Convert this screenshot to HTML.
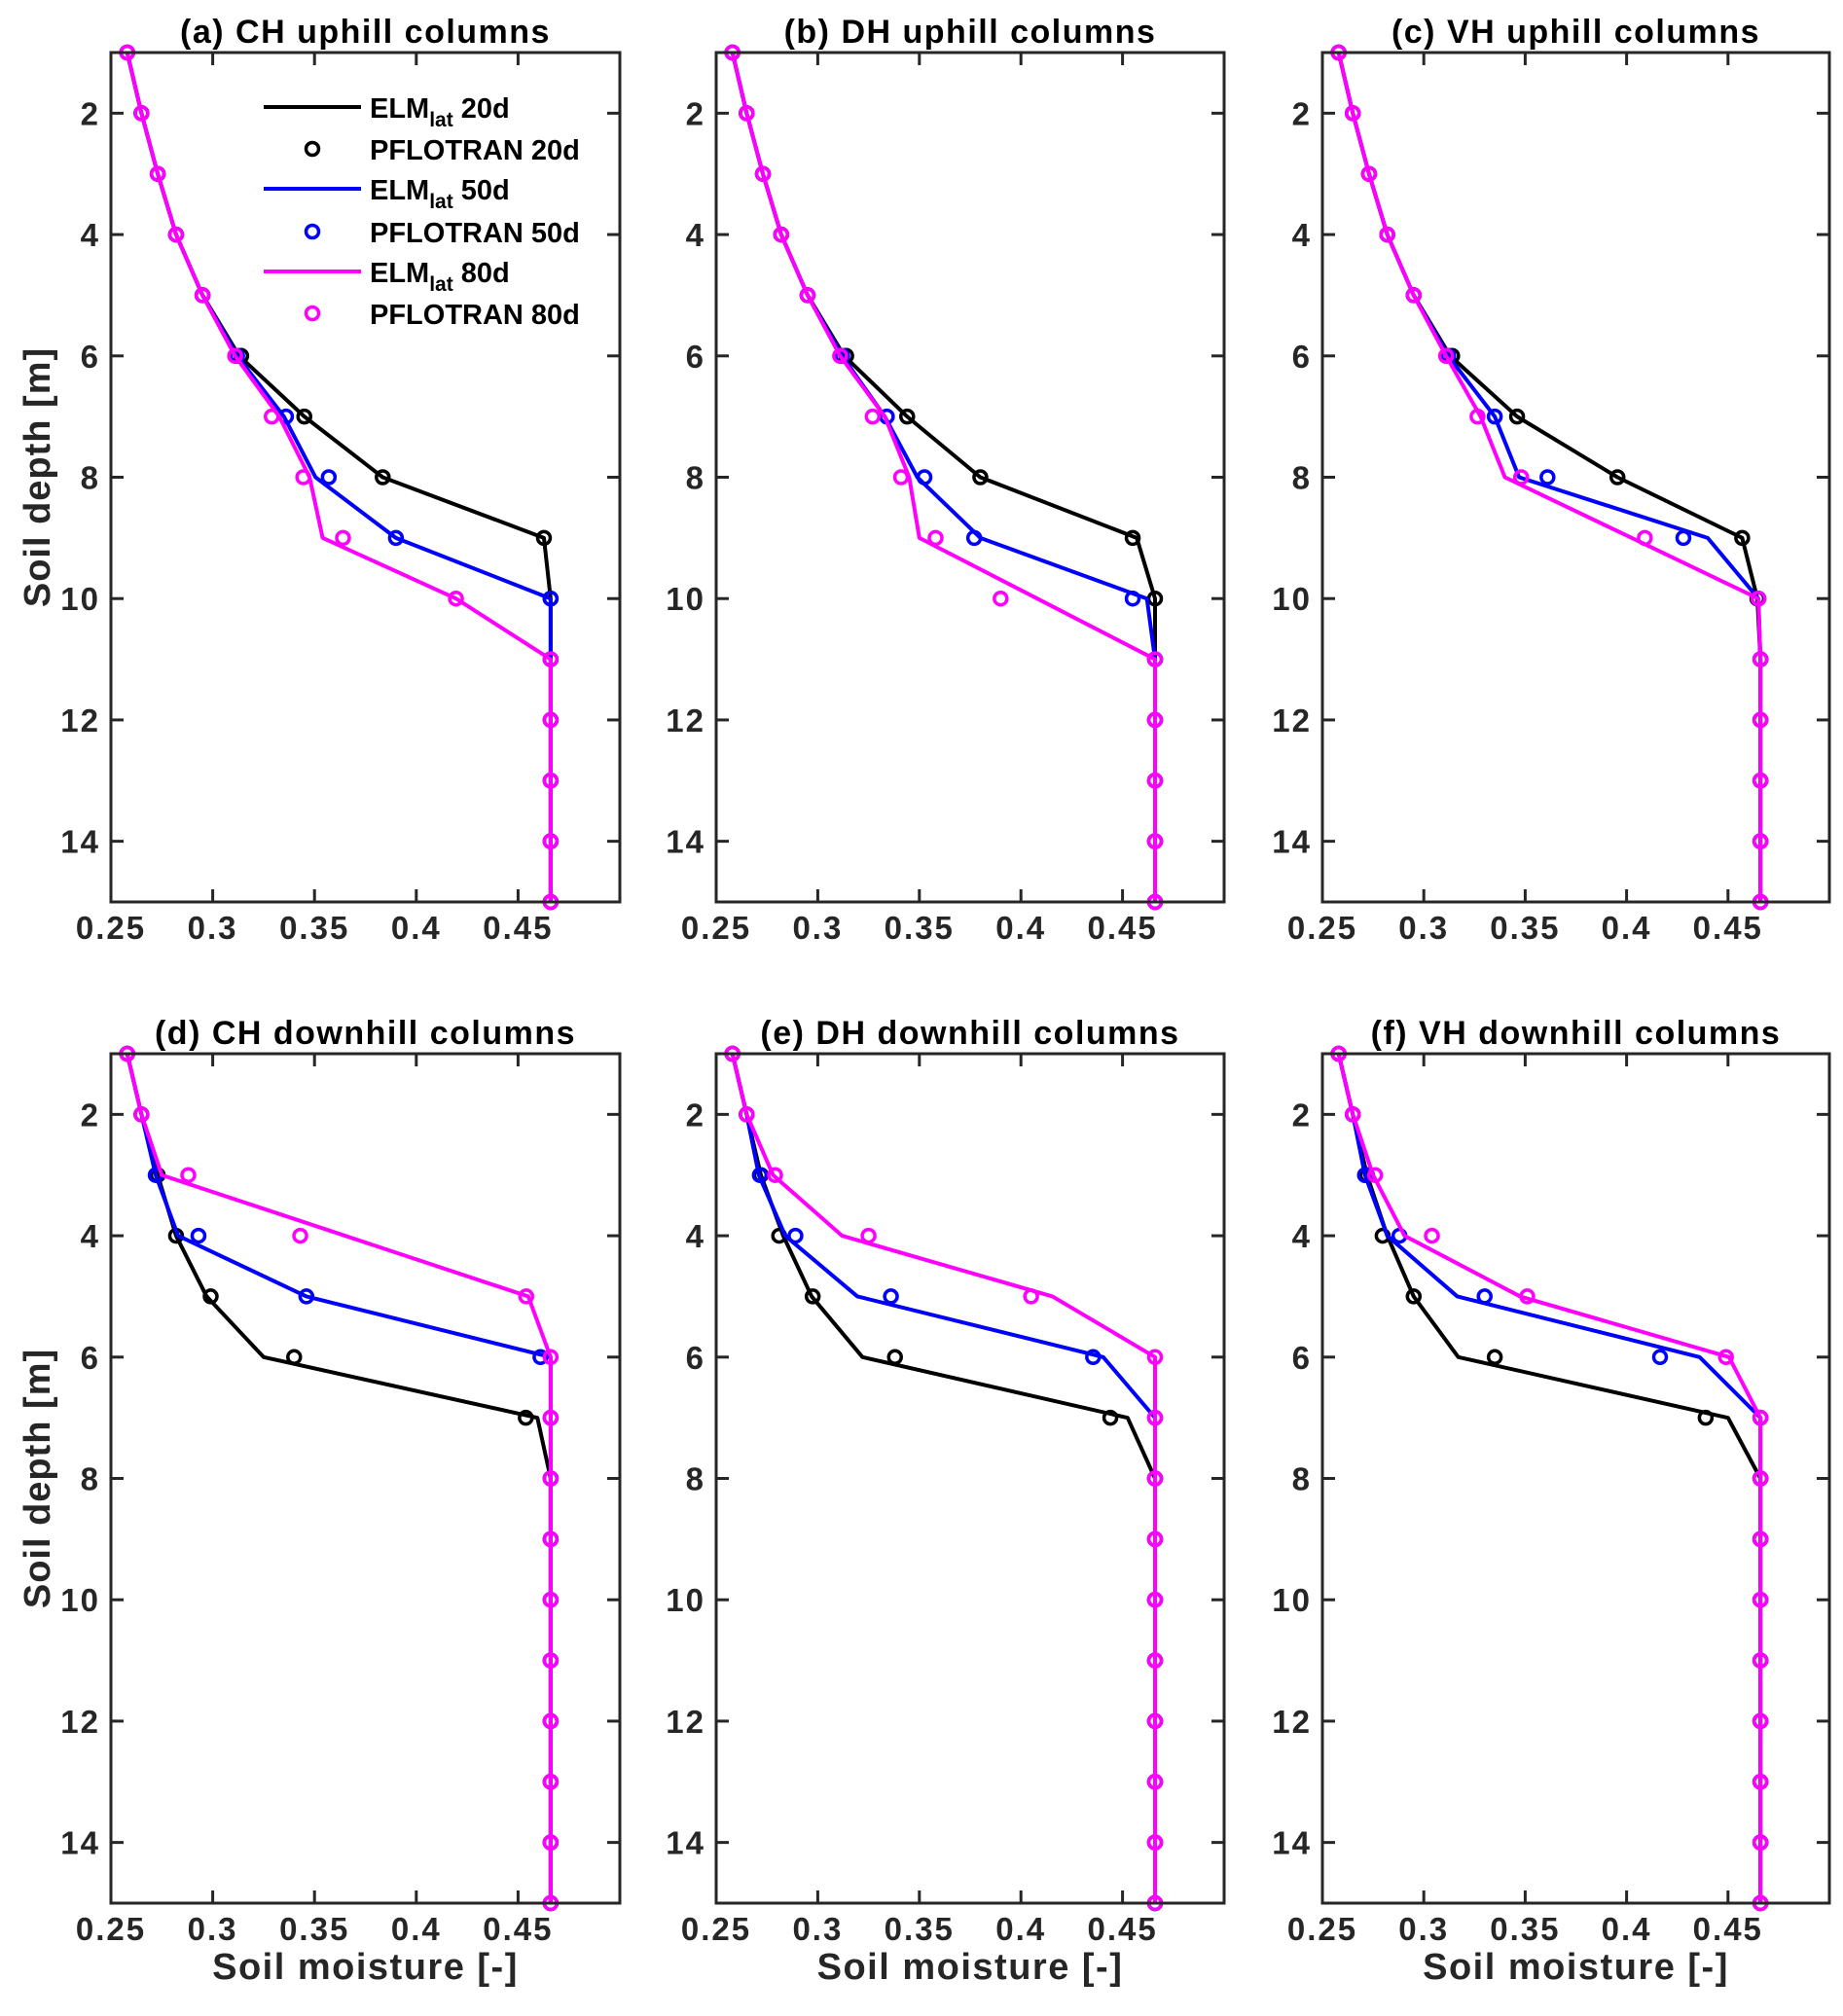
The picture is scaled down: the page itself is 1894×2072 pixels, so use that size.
<!DOCTYPE html>
<html><head><meta charset="utf-8"><style>
html,body{margin:0;padding:0;background:#fff;}
svg{display:block;font-family:"Liberation Sans",Arial,sans-serif;font-weight:bold;}
</style></head>
<body>
<svg id="fig" width="1894" height="2072" viewBox="0 0 1894 2072" xmlns="http://www.w3.org/2000/svg"></svg>
<script>
const depths=[1,2,3,4,5,6,7,8,9,10,11,12,13,14,15];
const xTicks=[0.25,0.3,0.35,0.4,0.45];
const xTickLabels=["0.25","0.3","0.35","0.4","0.45"];
const yTicks=[2,4,6,8,10,12,14];
const panelTitles=["(a) CH uphill columns","(b) DH uphill columns","(c) VH uphill columns","(d) CH downhill columns","(e) DH downhill columns","(f) VH downhill columns"];
const T=[0.258,0.265,0.273,0.282,0.295];
const S=[0.466,0.466,0.466,0.466,0.466,0.466,0.466,0.466,0.466,0.466];
const elm20_a=[...T,0.313,0.345,0.3835,0.4627,0.466,0.466,0.466,0.466,0.466,0.466];
const pfl20_a=[...T,0.314,0.345,0.3835,0.4627,0.466,0.466,0.466,0.466,0.466,0.466];
const elm50_a=[...T,0.312,0.335,0.3505,0.39,0.466,0.466,0.466,0.466,0.466,0.466];
const pfl50_a=[...T,0.312,0.336,0.357,0.390,0.466,0.466,0.466,0.466,0.466,0.466];
const elm80_a=[...T,0.311,0.3327,0.3476,0.354,0.4195,0.466,0.466,0.466,0.466,0.466];
const pfl80_a=[...T,0.311,0.329,0.3445,0.364,0.4195,0.466,0.466,0.466,0.466,0.466];
const elm20_b=[...T,0.313,0.344,0.380,0.457,0.466,0.466,0.466,0.466,0.466,0.466];
const pfl20_b=[...T,0.314,0.344,0.380,0.455,0.466,0.466,0.466,0.466,0.466,0.466];
const elm50_b=[...T,0.312,0.333,0.349,0.380,0.462,0.466,0.466,0.466,0.466,0.466];
const pfl50_b=[...T,0.312,0.334,0.3525,0.377,0.455,0.466,0.466,0.466,0.466,0.466];
const elm80_b=[...T,0.311,0.333,0.345,0.350,0.408,0.466,0.466,0.466,0.466,0.466];
const pfl80_b=[...T,0.311,0.327,0.341,0.358,0.390,0.466,0.466,0.466,0.466,0.466];
const elm20_c=[...T,0.313,0.346,0.3955,0.457,0.4645,0.466,0.466,0.466,0.466,0.466];
const pfl20_c=[...T,0.314,0.346,0.3955,0.457,0.4645,0.466,0.466,0.466,0.466,0.466];
const elm50_c=[...T,0.312,0.335,0.347,0.440,0.465,0.466,0.466,0.466,0.466,0.466];
const pfl50_c=[...T,0.312,0.335,0.361,0.428,0.465,0.466,0.466,0.466,0.466,0.466];
const elm80_c=[...T,0.311,0.328,0.340,0.4025,0.465,0.466,0.466,0.466,0.466,0.466];
const pfl80_c=[...T,0.311,0.3265,0.348,0.409,0.465,0.466,0.466,0.466,0.466,0.466];
const elm20_d=[0.258,0.265,0.273,0.282,0.297,0.325,0.4595,...S.slice(2)];
const pfl20_d=[0.258,0.265,0.273,0.282,0.299,0.340,0.4538,...S.slice(2)];
const elm50_d=[0.258,0.265,0.272,0.283,0.346,0.466,0.466,...S.slice(2)];
const pfl50_d=[0.258,0.265,0.272,0.293,0.346,0.461,0.466,...S.slice(2)];
const elm80_d=[0.258,0.265,0.275,0.365,0.455,0.466,0.466,...S.slice(2)];
const pfl80_d=[0.258,0.265,0.288,0.343,0.454,0.466,0.466,...S.slice(2)];
const elm20_e=[0.258,0.265,0.272,0.283,0.297,0.322,0.4525,...S.slice(2)];
const pfl20_e=[0.258,0.265,0.272,0.281,0.2975,0.338,0.444,...S.slice(2)];
const elm50_e=[0.258,0.265,0.271,0.284,0.3195,0.4405,0.466,...S.slice(2)];
const pfl50_e=[0.258,0.265,0.2715,0.289,0.336,0.4355,0.466,...S.slice(2)];
const elm80_e=[0.258,0.265,0.278,0.312,0.4155,0.466,0.466,...S.slice(2)];
const pfl80_e=[0.258,0.265,0.279,0.325,0.405,0.466,0.466,...S.slice(2)];
const elm20_f=[0.258,0.265,0.272,0.282,0.295,0.317,0.450,...S.slice(2)];
const pfl20_f=[0.258,0.265,0.272,0.2797,0.295,0.335,0.439,...S.slice(2)];
const elm50_f=[0.258,0.265,0.271,0.282,0.3165,0.436,0.466,...S.slice(2)];
const pfl50_f=[0.258,0.265,0.271,0.288,0.330,0.4165,0.466,...S.slice(2)];
const elm80_f=[0.258,0.265,0.275,0.2905,0.3475,0.4505,0.466,...S.slice(2)];
const pfl80_f=[0.258,0.265,0.276,0.304,0.351,0.449,0.466,...S.slice(2)];

const panels=[
 [elm20_a,pfl20_a,elm50_a,pfl50_a,elm80_a,pfl80_a],
 [elm20_b,pfl20_b,elm50_b,pfl50_b,elm80_b,pfl80_b],
 [elm20_c,pfl20_c,elm50_c,pfl50_c,elm80_c,pfl80_c],
 [elm20_d,pfl20_d,elm50_d,pfl50_d,elm80_d,pfl80_d],
 [elm20_e,pfl20_e,elm50_e,pfl50_e,elm80_e,pfl80_e],
 [elm20_f,pfl20_f,elm50_f,pfl50_f,elm80_f,pfl80_f]];
const colors=["#000000","#0000ff","#ff00ff"];
const seriesNames=["20d","50d","80d"];

const NS="http://www.w3.org/2000/svg";
const svg=document.getElementById('fig');
function mk(tag,attrs,parent){const e=document.createElementNS(NS,tag);for(const k in attrs)e.setAttribute(k,attrs[k]);(parent||svg).appendChild(e);return e;}
const colX=[[114,637],[736,1258],[1359,1880]];
const rowY=[[54,927],[1083,1956]];
const AX="#262626";
panels.forEach((data,pi)=>{
  const [x0,x1]=colX[pi%3];const [y0,y1]=rowY[Math.floor(pi/3)];
  const sx=v=>x0+(v-0.25)/0.25*(x1-x0);
  const sy=d=>y0+(d-1)/14*(y1-y0);
  const g=mk('g',{});
  
  
  const t=mk('text',{x:(x0+x1)/2,y:y0-10,'text-anchor':'middle','font-size':34,'letter-spacing':1.5,fill:'#000'},g);
  t.textContent=panelTitles[pi];
  
  
  for(let s=0;s<3;s++){
    const line=data[s*2],pts=data[s*2+1];
    const p=mk('polyline',{points:line.map((v,i)=>sx(v)+','+sy(depths[i])).join(' '),fill:'none',stroke:colors[s],'stroke-width':4,'stroke-linejoin':'round'},g);
    
    
    pts.forEach((v,i)=>{
      const c=mk('circle',{cx:sx(v),cy:sy(depths[i]),r:6.5,fill:'none',stroke:colors[s],'stroke-width':3.5},g);
      
      
    });
  }
  const box=mk('rect',{x:x0,y:y0,width:x1-x0,height:y1-y0,fill:'none',stroke:AX,'stroke-width':3},g);
  
  
  xTicks.forEach((v,i)=>{
    const x=sx(v);
    mk('line',{x1:x,x2:x,y1:y1,y2:y1-13,stroke:AX,'stroke-width':3},g);
    mk('line',{x1:x,x2:x,y1:y0,y2:y0+13,stroke:AX,'stroke-width':3},g);
    const tl=mk('text',{x:x,y:y1+38,'text-anchor':'middle','font-size':33,'letter-spacing':2,fill:AX},g);
    tl.textContent=xTickLabels[i];
    
    
  });
  yTicks.forEach(d=>{
    const y=sy(d);
    mk('line',{x1:x0,x2:x0+13,y1:y,y2:y,stroke:AX,'stroke-width':3},g);
    mk('line',{x1:x1,x2:x1-13,y1:y,y2:y,stroke:AX,'stroke-width':3},g);
    const tl=mk('text',{x:x0-11,y:y+12,'text-anchor':'end','font-size':33,'letter-spacing':2,fill:AX},g);
    tl.textContent=String(d);
    
    
  });
  if(pi%3===0){
    const yl=mk('text',{x:0,y:0,'text-anchor':'middle','font-size':38,'letter-spacing':1,fill:AX,transform:`translate(${x0-63},${(y0+y1)/2}) rotate(-90)`},g);
    yl.textContent='Soil depth [m]';
    
    
  }
  if(pi>=3){
    const xl=mk('text',{x:(x0+x1)/2,y:y1+78,'text-anchor':'middle','font-size':38,'letter-spacing':1.5,fill:AX},g);
    xl.textContent='Soil moisture [-]';
    
    
  }
  if(pi===0){
    const lg=mk('g',{},g);
    
    
    const rows=[110,153,194,238,279,322];
    for(let s=0;s<3;s++){
      const ly=rows[s*2],cy=rows[s*2+1];
      mk('line',{x1:271,x2:371,y1:ly,y2:ly,stroke:colors[s],'stroke-width':4},lg);
      const t1=mk('text',{x:380,y:ly+11,'font-size':29,fill:'#000'},lg);
      t1.innerHTML='ELM<tspan font-size="21" dy="9">lat</tspan><tspan dy="-9"> '+seriesNames[s]+'</tspan>';
      
      
      mk('circle',{cx:321,cy:cy,r:6.5,fill:'none',stroke:colors[s],'stroke-width':3.5},lg);
      const t2=mk('text',{x:380,y:cy+11,'font-size':29,fill:'#000'},lg);
      t2.textContent='PFLOTRAN '+seriesNames[s];
      
      
    }
  }
});
</script>
</body></html>
